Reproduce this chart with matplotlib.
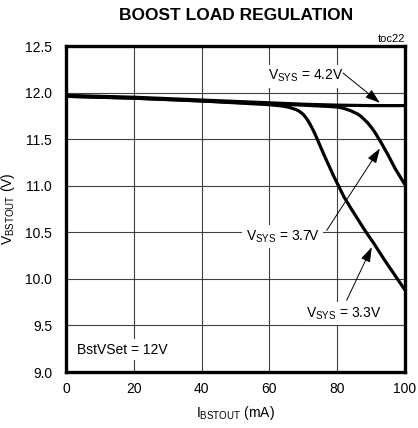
import matplotlib
matplotlib.use("Agg")
import matplotlib.pyplot as plt

plt.rcParams["font.family"] = ["Liberation Sans", "DejaVu Sans"]
plt.rcParams["mathtext.fontset"] = "custom"
plt.rcParams["mathtext.rm"] = "Liberation Sans"
plt.rcParams["mathtext.it"] = "Liberation Sans"

# boost output vs load current, one curve per VSYS
i_42 = [0, 10, 20, 30, 40, 50, 60, 70, 80, 90, 100]
v_42 = [11.97, 11.96, 11.95, 11.935, 11.92, 11.905, 11.89, 11.875, 11.865, 11.86, 11.86]

i_37 = [0, 20, 40, 60, 70, 78, 80, 82, 84, 86, 87, 88, 89, 90, 91, 93, 95, 97, 100]
v_37 = [11.96, 11.94, 11.91, 11.88, 11.865, 11.85, 11.845, 11.83, 11.805, 11.77, 11.745,
        11.71, 11.675, 11.63, 11.58, 11.46, 11.33, 11.19, 11.01]

i_33 = [0, 20, 40, 60, 64, 66, 68, 69, 70, 71, 72, 73, 74, 76, 79, 82, 84, 86, 88, 91, 94, 97, 100]
v_33 = [11.96, 11.94, 11.91, 11.87, 11.855, 11.84, 11.815, 11.795, 11.765, 11.72, 11.66, 11.59,
        11.51, 11.34, 11.10, 10.88, 10.76, 10.645, 10.53, 10.37, 10.20, 10.04, 9.88]

x_ticks = [0, 20, 40, 60, 80, 100]
y_ticks = [9.0, 9.5, 10.0, 10.5, 11.0, 11.5, 12.0, 12.5]

fig = plt.figure(figsize=(4.18, 4.28), dpi=100)
ax = fig.add_axes([66 / 418, 1 - 372 / 428, 339 / 418, 326 / 428])

ax.set_xlim(0, 100)
ax.set_ylim(9.0, 12.5)
ax.set_xticks(x_ticks)
ax.set_yticks(y_ticks)
ax.set_xticklabels([str(t) for t in x_ticks])
ax.set_yticklabels([f"{t:.1f}" for t in y_ticks])
ax.tick_params(axis="both", length=0, labelsize=10)
ax.tick_params(axis="y", pad=10)
ax.tick_params(axis="x", pad=7)
ax.grid(True, color="0.25", lw=0.8, zorder=0)
ax.set_axisbelow(True)
for s in ax.spines.values():
    s.set_linewidth(2.4)

lw = 2.3
ax.plot(i_42, v_42, color="black", lw=lw, zorder=3, solid_capstyle="butt")
ax.plot(i_37, v_37, color="black", lw=lw, zorder=3, solid_capstyle="butt")
ax.plot(i_33, v_33, color="black", lw=lw, zorder=3, solid_capstyle="butt")

box = dict(fc="white", ec="none", pad=2.5)
lbl = dict(fontsize=10, zorder=4, bbox=box, va="baseline")
ax.text(70.6, 12.134, r"$\mathregular{V_{SYS}}$ = 4.2V", ha="center", **lbl)
ax.text(63.9, 10.414, r"$\mathregular{V_{SYS}}$ = 3.7V", ha="center", **lbl)
ax.text(82.0, 9.586, r"$\mathregular{V_{SYS}}$ = 3.3V", ha="center", **lbl)
ax.text(3.1, 9.196, "BstVSet = 12V", ha="left", **lbl)

arr = dict(arrowstyle="-|>,head_length=0.6,head_width=0.2", color="black", lw=0.7,
           mutation_scale=15, shrinkA=0, shrinkB=0)
ax.annotate("", xy=(92.6, 11.89), xytext=(81.7, 12.21), arrowprops=arr, zorder=5)
ax.annotate("", xy=(92.6, 11.40), xytext=(76.9, 10.52), arrowprops=arr, zorder=5)
ax.annotate("", xy=(90.2, 10.34), xytext=(82.8, 9.77), arrowprops=arr, zorder=5)

ax.set_xlabel(r"$\mathregular{I_{BSTOUT}}$ (mA)", fontsize=10, labelpad=6)
ax.set_ylabel(r"$\mathregular{V_{BSTOUT}}$ (V)", fontsize=10, labelpad=6)

fig.text(236 / 418, 1 - 16 / 428, "BOOST LOAD REGULATION", ha="center", va="center",
         fontsize=12.5, fontweight="bold", family=["Liberation Sans Narrow", "Liberation Sans"])
fig.text(405 / 418, 1 - 42 / 428, "toc22", ha="right", va="baseline", fontsize=8)

fig.savefig("out.png", dpi=100)
